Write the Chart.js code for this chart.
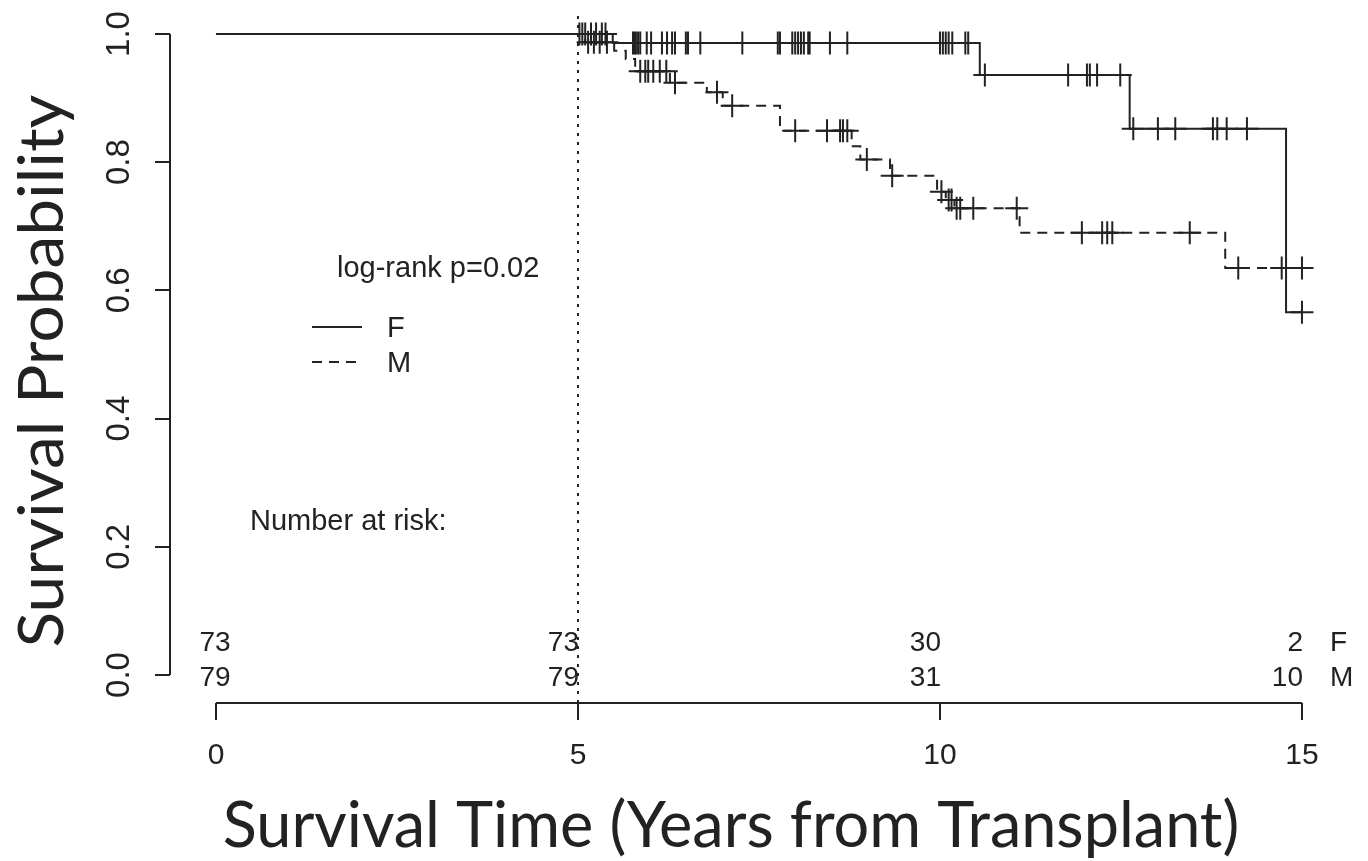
<!DOCTYPE html>
<html>
<head>
<meta charset="utf-8">
<script src="https://cdn.jsdelivr.net/npm/chart.js@4.4.1/dist/chart.umd.min.js"></script>
<style>
  html, body { margin: 0; padding: 0; background: #fff; }
  canvas { display: block; }
</style>
</head>
<body>
<canvas id="km" width="1368" height="861"></canvas>
<script>
// Kaplan-Meier estimates (years from transplant)
const fTimes = [0, 5.48, 10.55, 12.62, 14.78, 15.0];
const fSurv  = [1, 0.986, 0.936, 0.852, 0.566, 0.566];

const mTimes = [0, 5.10, 5.50, 5.66, 5.79, 6.27, 6.78, 7.00, 7.79, 8.78, 8.90, 9.31, 9.96, 10.08, 10.20, 11.10, 13.94, 15.0];
const mSurv  = [1, 0.987, 0.974, 0.961, 0.942, 0.924, 0.909, 0.888, 0.849, 0.825, 0.804, 0.779, 0.754, 0.741, 0.728, 0.690, 0.635, 0.635];

// censoring times
const fCensored = [5.02, 5.06, 5.10, 5.18, 5.25, 5.33, 5.38,
  5.76, 5.78, 5.80, 5.83, 5.86, 5.95, 6.01, 6.16, 6.23, 6.30, 6.34, 6.49, 6.52, 6.69,
  7.27, 7.76, 7.79, 7.96, 8.00, 8.04, 8.08, 8.12, 8.18, 8.20, 8.48, 8.72,
  10.00, 10.04, 10.08, 10.12, 10.17, 10.35, 10.39,
  10.62, 11.77, 12.03, 12.07, 12.17, 12.49,
  12.67, 13.01, 13.25, 13.77, 13.83, 13.96, 14.24, 15.0];
const mCensored = [5.14, 5.22, 5.30, 5.40,
  5.86, 5.93, 5.97, 6.04, 6.13, 6.22, 6.34, 6.92, 7.13,
  8.00, 8.44, 8.62, 8.66, 8.72, 8.99, 9.34,
  10.02, 10.12, 10.16, 10.23, 10.28, 10.46, 11.06,
  11.96, 12.24, 12.31, 12.38, 13.45, 14.12, 14.72, 15.0];

const xTicks = [0, 5, 10, 15];
const yTicks = [0, 0.2, 0.4, 0.6, 0.8, 1.0];

const riskTimes = [0, 5, 10, 15];
const riskF = [73, 73, 30, 2];
const riskM = [79, 79, 31, 10];
const groups = ['F', 'M'];
const cutoffYear = 5;
const pText = 'log-rank p=0.02';

const ink = '#222';
const yMin = -0.0437, yMax = 1.0296;

function survAt(times, surv, t) {
  let s = surv[0];
  for (let i = 0; i < times.length; i++) if (times[i] <= t) s = surv[i];
  return s;
}
const pts = (times, surv) => times.map((t, i) => ({x: t, y: surv[i]}));
const marks = (cens, times, surv) => cens.map(t => ({x: t, y: survAt(times, surv, t)}));

const extras = {
  id: 'extras',
  afterDraw(chart) {
    const {ctx, scales: {x, y}} = chart;
    ctx.save();
    ctx.strokeStyle = ink;
    ctx.fillStyle = ink;
    ctx.lineWidth = 2;

    // axes only over the tick range, like R
    ctx.beginPath();
    ctx.moveTo(x.getPixelForValue(0), x.top);
    ctx.lineTo(x.getPixelForValue(15), x.top);
    ctx.moveTo(y.right, y.getPixelForValue(0));
    ctx.lineTo(y.right, y.getPixelForValue(1));
    ctx.stroke();

    // legend
    ctx.beginPath();
    ctx.moveTo(312, 327); ctx.lineTo(362, 327);
    ctx.stroke();
    ctx.setLineDash([10, 7]);
    ctx.beginPath();
    ctx.moveTo(312, 362); ctx.lineTo(362, 362);
    ctx.stroke();
    ctx.setLineDash([]);

    ctx.font = '29px "Liberation Sans", Arial, sans-serif';
    ctx.textBaseline = 'alphabetic';
    ctx.textAlign = 'left';
    ctx.fillText(pText, 337, 277);
    ctx.textBaseline = 'middle';
    ctx.fillText(groups[0], 387, 329);
    ctx.fillText(groups[1], 387, 364);
    ctx.fillText('Number at risk:', 250, 522);

    // risk table
    ctx.font = '28px "Liberation Sans", Arial, sans-serif';
    riskTimes.forEach((t, i) => {
      const px = x.getPixelForValue(t);
      ctx.textAlign = i === 0 ? 'center' : 'right';
      const tx = i === 0 ? px - 1 : px + 1;
      ctx.fillText(String(riskF[i]), tx, 643);
      ctx.fillText(String(riskM[i]), tx, 678);
    });
    ctx.textAlign = 'left';
    ctx.fillText(groups[0], 1330, 643);
    ctx.fillText(groups[1], 1330, 678);

    // axis titles
    ctx.font = '63px Lato, "Open Sans", sans-serif';
    ctx.textBaseline = 'alphabetic';
    ctx.textAlign = 'center';
    ctx.fillText('Survival Time (Years from Transplant)', 731, 847);
    ctx.font = '62px Lato, "Open Sans", sans-serif';
    ctx.translate(63, 371);
    ctx.rotate(-Math.PI / 2);
    ctx.scale(1.06, 1);
    ctx.fillText('Survival Probability', 0, 0);
    ctx.restore();
  }
};

new Chart(document.getElementById('km'), {
  type: 'scatter',
  data: {
    datasets: [
      {
        label: 'F',
        data: pts(fTimes, fSurv),
        showLine: true,
        stepped: 'before',
        borderColor: ink,
        borderWidth: 2,
        pointRadius: 0
      },
      {
        label: 'M',
        data: pts(mTimes, mSurv),
        showLine: true,
        stepped: 'before',
        borderColor: ink,
        borderWidth: 2,
        borderDash: [10, 7],
        pointRadius: 0
      },
      {
        label: 'F censored',
        data: marks(fCensored, fTimes, fSurv),
        pointStyle: 'cross',
        pointRadius: 11.5,
        pointBorderWidth: 2,
        borderColor: ink
      },
      {
        label: 'M censored',
        data: marks(mCensored, mTimes, mSurv),
        pointStyle: 'cross',
        pointRadius: 11.5,
        pointBorderWidth: 2,
        borderColor: ink
      },
      {
        label: 'cutoff',
        data: [{x: cutoffYear, y: yMin}, {x: cutoffYear, y: yMax}],
        showLine: true,
        borderColor: ink,
        borderWidth: 2,
        borderDash: [3, 6],
        pointRadius: 0
      }
    ]
  },
  options: {
    responsive: false,
    animation: false,
    events: [],
    layout: {padding: {top: 15, right: 32, bottom: 0, left: 0}},
    plugins: {legend: {display: false}, tooltip: {enabled: false}},
    scales: {
      x: {
        type: 'linear',
        min: -0.635,
        max: 15.47,
        afterBuildTicks: s => { s.ticks = xTicks.map(v => ({value: v})); },
        afterFit: s => { s.height = 158; s.paddingLeft = 0; s.paddingRight = 0; },
        border: {display: false},
        grid: {drawOnChartArea: false, drawTicks: true, tickLength: 17, color: ink, lineWidth: 2},
        ticks: {
          autoSkip: false, maxRotation: 0, padding: 18, color: ink,
          font: {family: '"Liberation Sans", Arial, sans-serif', size: 30}
        }
      },
      y: {
        min: yMin,
        max: yMax,
        afterBuildTicks: s => { s.ticks = yTicks.map(v => ({value: v})); },
        afterFit: s => { s.width = 170; s.paddingTop = 0; s.paddingBottom = 0; },
        border: {display: false},
        grid: {drawOnChartArea: false, drawTicks: true, tickLength: 15, color: ink, lineWidth: 2},
        ticks: {
          autoSkip: false, minRotation: 90, maxRotation: 90, crossAlign: 'center', padding: 12, color: ink,
          font: {family: '"Liberation Sans", Arial, sans-serif', size: 33},
          callback: v => v.toFixed(1)
        }
      }
    }
  },
  plugins: [extras]
});
</script>
</body>
</html>
